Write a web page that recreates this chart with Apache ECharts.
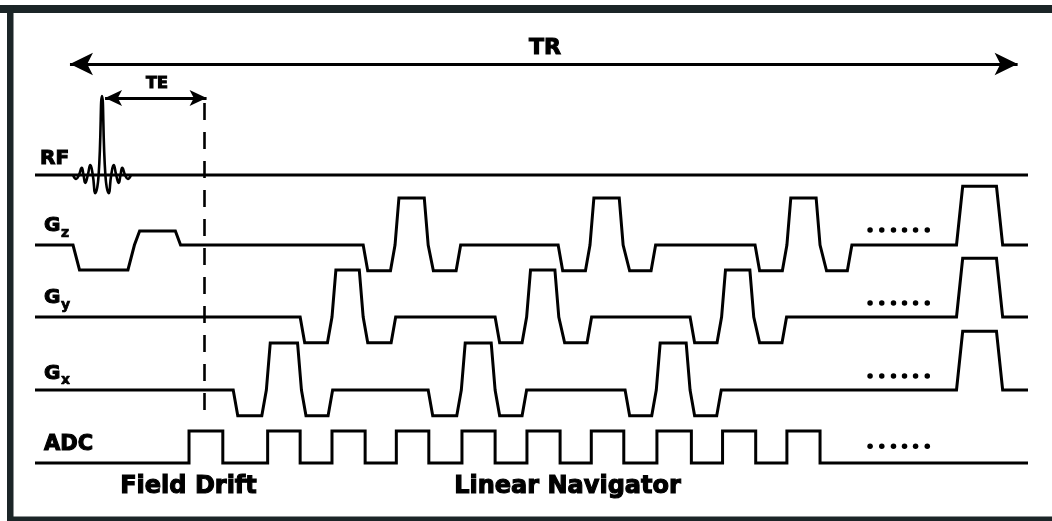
<!DOCTYPE html>
<html><head><meta charset="utf-8">
<script src="https://cdn.jsdelivr.net/npm/echarts@6/dist/echarts.min.js"></script>
<style>html,body{margin:0;padding:0;background:#fff}#c{width:1052px;height:521px}</style>
</head><body><div id="c"></div>
<script>
// ---- time axis (arbitrary time units) ----
const T_MIN = -0.8, T_MAX = 152;

// RF sinc pulse: [time, amplitude]
const rfPulse = [
  [5.05, 0], [5.53, -0.05], [5.96, 0], [6.39, 0.09], [6.66, 0], [6.94, -0.1],
  [7.33, 0], [7.71, 0.125], [8.09, 0], [8.48, -0.23], [8.99, 0], [9.51, 1.0],
  [10.03, 0], [10.54, -0.23], [10.93, 0], [11.31, 0.125], [11.69, 0], [12.08, -0.1],
  [12.36, 0], [12.63, 0.09], [13.06, 0], [13.49, -0.05], [13.97, 0]
];

// gradient lobes: [start, end, amplitude, ramp time]
const gzLobes = [
  [5.05, 14.5, -0.53, 1.0], [14.5, 21.6, 0.30, 0.8],
  [49.7, 54.6, -0.55, 0.7], [54.6, 59.7, 1.0, 0.6], [59.8, 64.7, -0.55, 0.7],
  [79.7, 84.6, -0.55, 0.7], [84.6, 89.7, 1.0, 0.6], [90.0, 94.7, -0.55, 0.7],
  [110.0, 114.9, -0.55, 0.7], [114.9, 120.0, 1.0, 0.6], [120.3, 124.9, -0.55, 0.7],
  [141.0, 148.1, 1.25, 0.95]
];
const gyLobes = [
  [40.0, 44.9, -0.55, 0.7], [44.9, 49.7, 1.0, 0.6], [49.7, 54.7, -0.55, 0.7],
  [70.0, 74.85, -0.55, 0.7], [74.85, 79.8, 1.0, 0.6], [80.0, 84.85, -0.55, 0.7],
  [100.0, 104.85, -0.55, 0.7], [104.85, 109.8, 1.0, 0.6], [110.0, 114.85, -0.55, 0.7],
  [141.0, 148.1, 1.25, 0.95]
];
const gxLobes = [
  [29.7, 34.8, -0.55, 0.7], [34.8, 40.2, 1.0, 0.6], [40.2, 45.0, -0.55, 0.7],
  [59.7, 64.8, -0.55, 0.7], [64.8, 70.0, 1.0, 0.6], [70.0, 74.85, -0.55, 0.7],
  [90.0, 94.8, -0.55, 0.7], [94.8, 100.0, 1.0, 0.6], [100.0, 104.8, -0.55, 0.7],
  [141.0, 148.1, 1.25, 0.95]
];
// ADC sampling windows: [open, close]
const adcWindows = [
  [22.9, 28.1], [35.0, 40.0], [44.9, 50.0], [54.8, 59.8], [64.9, 70.0],
  [74.9, 80.0], [84.8, 89.8], [94.9, 100.2], [105.0, 110.1], [114.9, 120.0]
];
// continuation dots
const ellipsisT = [127.7, 129.5, 131.3, 133.0, 134.7, 136.5];
// timing annotations
const trSpan = [4.58, 150.4];
const teSpan = [9.98, 25.6];
const echoTime = 25.3;

const channelNames = ['RF', 'G', 'G', 'G', 'ADC'];
const gradSubscripts = ['z', 'y', 'x'];
const bottomLabels = ['Field Drift', 'Linear Navigator'];

// ---- build waveforms ----
function trapWave(lobes) {
  const p = [[T_MIN, 0]];
  lobes.forEach(([a, b, amp, r]) => { p.push([a, 0], [a + r, amp], [b - r, amp], [b, 0]); });
  p.push([T_MAX, 0]);
  return p;
}
function boxWave(wins) {
  const p = [[T_MIN, 0]];
  wins.forEach(([a, b]) => { p.push([a, 0], [a, 1], [b, 1], [b, 0]); });
  p.push([T_MAX, 0]);
  return p;
}

const INK = '#000';
const LW = 3;
const FONT = '"DejaVu Sans", Verdana, sans-serif';
const gx = { left: 35, width: 993 };
const grids = [
  Object.assign({ top: 88.1, height: 126.4 }, gx),   // RF  (baseline 175)
  Object.assign({ top: 174.5, height: 108.1 }, gx),  // Gz  (baseline 245)
  Object.assign({ top: 246.5, height: 108.1 }, gx),  // Gy  (baseline 317)
  Object.assign({ top: 319.5, height: 108.1 }, gx),  // Gx  (baseline 390)
  Object.assign({ top: 415, height: 64 }, gx),       // ADC (baseline 463)
  Object.assign({ top: 0, height: 521 }, gx)         // annotation overlay
];
const yRanges = [[-0.5, 1.1], [-0.8, 1.5], [-0.8, 1.5], [-0.8, 1.5], [-0.5, 1.5]];

const xAxes = grids.map((g, i) => ({ type: 'value', gridIndex: i, min: T_MIN, max: T_MAX, show: false }));
const yAxes = yRanges.map((r, i) => ({ type: 'value', gridIndex: i, min: r[0], max: r[1], show: false }));
yAxes.push({ type: 'value', gridIndex: 5, min: 0, max: 521, inverse: true, show: false });

const lineBase = { type: 'line', showSymbol: false, symbol: 'none', silent: true, animation: false, clip: false,
  lineStyle: { color: INK, width: LW, join: 'miter', cap: 'butt' } };
function lineSeries(idx, data, extra) {
  return Object.assign({}, lineBase, { xAxisIndex: idx, yAxisIndex: idx, data }, extra || {});
}
function dots(idx, y) {
  return { type: 'scatter', xAxisIndex: idx, yAxisIndex: idx, silent: true, animation: false,
    symbol: 'circle', symbolSize: 5.5, itemStyle: { color: INK, opacity: 1 },
    data: ellipsisT.map(t => [t, y]) };
}

const series = [
  lineSeries(0, [[T_MIN, 0], [T_MAX, 0]]),
  lineSeries(0, rfPulse, { smooth: 0.5, lineStyle: { color: INK, width: 2.6, join: 'round' } }),
  lineSeries(1, trapWave(gzLobes)),
  lineSeries(2, trapWave(gyLobes)),
  lineSeries(3, trapWave(gxLobes)),
  lineSeries(4, boxWave(adcWindows)),
  dots(1, 0.32), dots(2, 0.3), dots(3, 0.3), dots(4, 0.52),
  {
    type: 'line', xAxisIndex: 5, yAxisIndex: 5, data: [], silent: true, animation: false,
    markLine: {
      silent: true, animation: false, label: { show: false },
      lineStyle: { color: INK, width: 3, type: 'solid' },
      data: [
        [{ coord: [trSpan[0], 64], symbol: 'arrow', symbolSize: [17, 23] },
         { coord: [trSpan[1], 64], symbol: 'arrow', symbolSize: [17, 23] }],
        [{ coord: [teSpan[0], 98], symbol: 'arrow', symbolSize: [12, 17], lineStyle: { width: 2.8 } },
         { coord: [teSpan[1], 98], symbol: 'arrow', symbolSize: [12, 17] }],
        [{ coord: [echoTime, 103], symbol: 'none', lineStyle: { width: 2.6, type: [17, 12] } },
         { coord: [echoTime, 422], symbol: 'none' }]
      ]
    }
  }
];

function txt(text, x, y, size, align) {
  return { type: 'text', x, y, silent: true,
    style: { text, fill: INK, stroke: INK, lineWidth: size > 15 ? 1.1 : 0.7,
      font: 'bold ' + size + 'px ' + FONT, textAlign: align || 'left', textVerticalAlign: 'middle' } };
}
const FRAME = '#1b2527';
const graphics = [
  { type: 'rect', silent: true, shape: { x: 0, y: 5, width: 1052, height: 8 }, style: { fill: FRAME } },
  { type: 'rect', silent: true, shape: { x: 7, y: 5, width: 6.5, height: 516 }, style: { fill: FRAME } },
  { type: 'rect', silent: true, shape: { x: 7, y: 516.5, width: 1045, height: 5 }, style: { fill: FRAME } },
  txt(channelNames[0], 40, 158.5, 20),
  txt(channelNames[1], 44, 225.5, 20), txt(gradSubscripts[0], 61, 233, 14),
  txt(channelNames[2], 44, 298, 20), txt(gradSubscripts[1], 61, 305, 14),
  txt(channelNames[3], 44, 373.5, 20), txt(gradSubscripts[2], 61, 380, 14),
  txt(channelNames[4], 44, 444.5, 21),
  txt('TR', 545, 48, 22, 'center'),
  txt('TE', 157, 84, 16, 'center'),
  txt(bottomLabels[0], 188.5, 486.5, 24, 'center'),
  txt(bottomLabels[1], 567.5, 486.5, 24, 'center')
];

const chart = echarts.init(document.getElementById('c'), null, { renderer: 'canvas' });
chart.setOption({
  backgroundColor: '#fff',
  animation: false,
  grid: grids,
  xAxis: xAxes,
  yAxis: yAxes,
  series,
  graphic: graphics
});
</script></body></html>
